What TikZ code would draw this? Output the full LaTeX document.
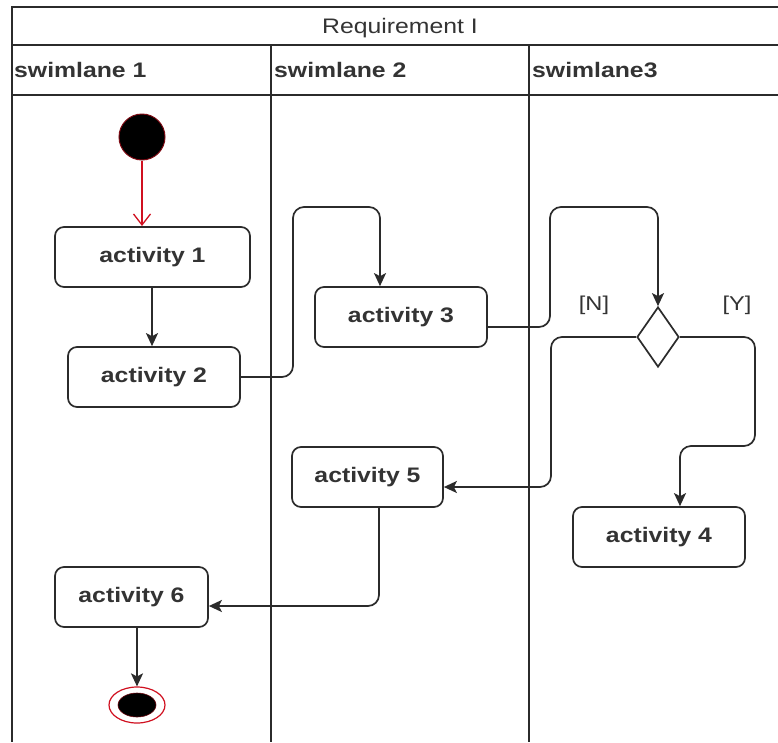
\documentclass[tikz,border=0pt]{standalone}
\usepackage{fontspec}
\setmainfont{Liberation Sans}
\usetikzlibrary{arrows.meta,shapes.geometric}
\definecolor{ink}{HTML}{2B2B2B}
\definecolor{txt}{HTML}{333333}
\definecolor{startred}{HTML}{D01020}
\newcommand\stretchtxt[1]{\scalebox{1.18}[1]{#1}}
\tikzset{
  lane/.style={draw=ink, line width=1.7pt},
  actbox/.style={draw=ink, line width=1.7pt, rounded corners=9pt, fill=white,
    inner sep=0pt, text=txt, font=\fontsize{21}{24}\selectfont\bfseries},
  flow/.style={draw=ink, line width=1.7pt, rounded corners=11pt,
    -{Stealth[length=13pt,width=12pt,inset=3pt]}},
  guard/.style={text=txt, font=\fontsize{20}{24}\selectfont},
  lanetitle/.style={text=txt, font=\fontsize{21}{24}\selectfont\bfseries, anchor=west, inner sep=0pt}
}
\begin{document}
\begin{tikzpicture}[x=1pt,y=-1pt]
\useasboundingbox (0,0) rectangle (778,742);
% pool frame and lanes
\draw[lane] (778,7) -- (12,7) -- (12,742);
\draw[lane] (12,45) -- (778,45);
\draw[lane] (12,95) -- (778,95);
\draw[lane] (271,45) -- (271,742);
\draw[lane] (529,45) -- (529,742);
\node[text=txt, font=\fontsize{21}{24}\selectfont] (title) at (400,28) {\stretchtxt{Requirement I}};
\node[lanetitle] (l1) at (14,70) {\stretchtxt{swimlane 1}};
\node[lanetitle] (l2) at (274,70) {\stretchtxt{swimlane 2}};
\node[lanetitle] (l3) at (532,70) {\stretchtxt{swimlane3}};

% initial and final states
\node[circle, fill=black, draw=startred!60!black, line width=1pt, minimum size=46pt, inner sep=0pt] (start) at (142,137) {};
\node[ellipse, draw=startred, line width=1.2pt, minimum width=56pt, minimum height=36pt, inner sep=0pt] (end) at (137,705) {};
\node[ellipse, fill=black, draw=startred!50!black, line width=0.6pt, minimum width=38pt, minimum height=24pt, inner sep=0pt] (endcore) at (137,705) {};

% activities
\node[actbox, minimum width=195pt, minimum height=60pt] (a1) at (152.5,257) {\stretchtxt{activity 1}};
\node[actbox, minimum width=172pt, minimum height=60pt] (a2) at (154,377) {\stretchtxt{activity 2}};
\node[actbox, minimum width=172pt, minimum height=60pt] (a3) at (401,317) {\stretchtxt{activity 3}};
\node[actbox, minimum width=172pt, minimum height=60pt] (a4) at (659,537) {\stretchtxt{activity 4}};
\node[actbox, minimum width=151pt, minimum height=60pt] (a5) at (367.5,477) {\stretchtxt{activity 5}};
\node[actbox, minimum width=153pt, minimum height=60pt] (a6) at (131.5,597) {\stretchtxt{activity 6}};

% decision
\node[diamond, draw=ink, line width=1.7pt, fill=white, minimum width=42pt, minimum height=60pt, inner sep=0pt] (dec) at (658,337) {};
\node[guard] (gn) at (594,305) {\stretchtxt{[N]}};
\node[guard] (gy) at (737,305) {\stretchtxt{[Y]}};

% control flows
\draw[draw=startred, line width=1.3pt, -{Straight Barb[length=11pt,width=17pt]}] (start.south) -- (142,226);
\draw[flow] (a1.south -| 152,0) -- (a2.north -| 152,0);
\draw[flow] (a2.east) -- (293,377) -- (293,207) -- (380,207) -- (a3.north -| 380,0);
\draw[flow] (a3.east |- 0,327) -- (550,327) -- (550,207) -- (658,207) -- (dec.north);
\draw[flow] (dec.west) -- (551,337) -- (551,487) -- (a5.east |- 0,487);
\draw[flow] (dec.east) -- (755,337) -- (755,446) -- (680,446) -- (a4.north -| 680,0);
\draw[flow] (a5.south -| 379,0) -- (379,606) -- (a6.east |- 0,606);
\draw[flow] (a6.south -| 137,0) -- (end.north);
\end{tikzpicture}
\end{document}
